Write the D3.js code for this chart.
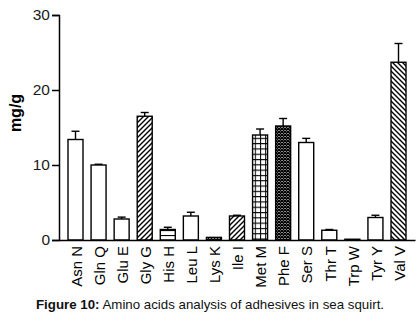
<!DOCTYPE html>
<html><head><meta charset="utf-8">
<script src="https://cdn.jsdelivr.net/npm/d3@7"></script>
<style>body{margin:0;background:#fff}svg{display:block}text{font-family:"Liberation Sans",Arial,sans-serif}</style>
</head><body>
<svg id="c" width="420" height="323"></svg>
<script>
const categories = ["Asn N","Gln Q","Glu E","Gly G","His H","Leu L","Lys K","Ile I","Met M","Phe F","Ser S","Thr T","Trp W","Tyr Y","Val V"];
const values = [13.4, 10.0, 2.8, 16.5, 1.4, 3.2, 0.35, 3.2, 14.0, 15.2, 13.0, 1.3, 0.1, 3.0, 23.7];
const errors = [1.1, 0.1, 0.25, 0.5, 0.3, 0.5, 0, 0.1, 0.8, 1.0, 0.55, 0.1, 0, 0.3, 2.5];
const yTicks = [0, 10, 20, 30];

const fillStyle = {"Gly G":"url(#diagUp)","Ile I":"url(#diagUp)","His H":"url(#hlines)","Lys K":"url(#cross)","Met M":"url(#grid)","Phe F":"url(#cross)","Val V":"url(#diagDown)"};

const svg = d3.select("#c");
const defs = svg.append("defs");
function pat(id, w, h, draw){
  const p = defs.append("pattern").attr("id", id).attr("patternUnits","userSpaceOnUse").attr("width", w).attr("height", h);
  p.append("rect").attr("width", w).attr("height", h).attr("fill","#fff");
  draw(p);
}
pat("diagUp", 5, 5, p => { p.append("path").attr("d","M-1,6 L6,-1 M-1,1 L1,-1 M4,6 L6,4").attr("stroke","#000").attr("stroke-width",1.4); });
pat("diagDown", 5, 5, p => { p.append("path").attr("d","M-1,-1 L6,6 M4,-1 L6,1 M-1,4 L1,6").attr("stroke","#000").attr("stroke-width",1.4); });
pat("hlines", 5, 5, p => { p.append("path").attr("d","M0,0.5 L5,0.5").attr("stroke","#000").attr("stroke-width",1.2); });
pat("grid", 5.2, 5.3, p => { p.append("path").attr("d","M0,0.5 L5.2,0.5 M0.5,0 L0.5,5.3").attr("stroke","#000").attr("stroke-width",1); });
pat("cross", 3, 3, p => { p.append("path").attr("d","M0,0 L3,3 M3,0 L0,3").attr("stroke","#000").attr("stroke-width",1.3); });

const x = d3.scaleBand().domain(categories).range([59, 415]).paddingInner(0.35).paddingOuter(0.39);
const y = d3.scaleLinear().domain([0, 30]).range([240, 15]);

const data = categories.map((c,i)=>({c, v: values[i], e: errors[i]}));

// bars
svg.append("g").selectAll("rect").data(data).join("rect")
  .attr("x", d => x(d.c)).attr("width", x.bandwidth())
  .attr("y", d => y(d.v)).attr("height", d => y(0) - y(d.v))
  .attr("fill", d => fillStyle[d.c] || "#fff")
  .attr("stroke", "#000").attr("stroke-width", 1.4);

// error bars (upper only)
const eb = svg.append("g").attr("stroke","#000").attr("stroke-width",1.4);
data.filter(d => d.e > 0).forEach(d => {
  const cx = x(d.c) + x.bandwidth()/2;
  eb.append("line").attr("x1", cx).attr("x2", cx).attr("y1", y(d.v)).attr("y2", y(d.v + d.e));
  eb.append("line").attr("x1", cx-4).attr("x2", cx+4).attr("y1", y(d.v + d.e)).attr("y2", y(d.v + d.e));
});

// y axis
const ya = svg.append("g").attr("transform","translate(59,0)")
  .call(d3.axisLeft(y).tickValues(yTicks).tickSize(7).tickPadding(2).tickFormat(d3.format("d")));
ya.select(".domain").attr("stroke","#000").attr("stroke-width",1.5);
ya.selectAll(".tick line").attr("stroke","#000").attr("stroke-width",1.5);
ya.selectAll(".tick text").attr("font-size",15.5).attr("fill","#1a1a1a").attr("font-family","Liberation Sans, Arial, sans-serif");

// x axis
const xa = svg.append("g").attr("transform","translate(0,240)")
  .call(d3.axisBottom(x).tickSize(0).tickSizeOuter(0));
xa.select(".domain").attr("stroke","#000").attr("stroke-width",1.5);
xa.selectAll(".tick text")
  .attr("font-size",15).attr("fill","#000").attr("font-family","Liberation Sans, Arial, sans-serif")
  .attr("text-anchor","end").attr("transform","rotate(-90)")
  .attr("x",-6).attr("y",1).attr("dy","0.35em");

// y label
svg.append("text").attr("transform","translate(21,113) rotate(-90)")
  .attr("text-anchor","middle").attr("font-size",16).attr("font-weight","bold").attr("fill","#000").text("mg/g");

// caption
const cap = svg.append("text").attr("x",210).attr("y",309).attr("text-anchor","middle").attr("font-size",13.3).attr("fill","#111");
cap.append("tspan").attr("font-weight","bold").text("Figure 10:");
cap.append("tspan").text(" Amino acids analysis of adhesives in sea squirt.");
</script>
</body></html>
